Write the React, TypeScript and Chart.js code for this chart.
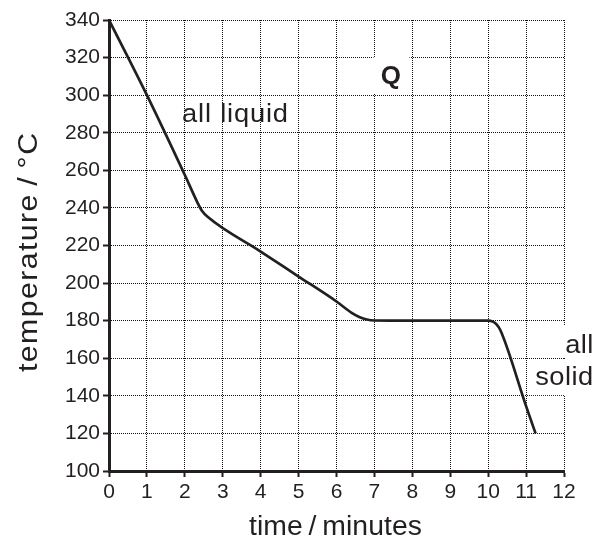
import { useEffect, useRef } from "react";
import { Chart, registerables } from "chart.js";

Chart.register(...registerables);

// ---- data ----
const timeMinutes = [0, 1, 2, 2.33, 2.45, 2.6, 4, 5, 6, 6.4, 6.6, 6.8, 7, 8, 9, 10, 10.12, 10.22, 10.32, 11, 11.25];
const temperatureC = [340, 300, 257.5, 243, 238.5, 235.3, 216.8, 203.5, 190.2, 184.2, 182, 180.6, 180.1, 180, 180, 180, 179.5, 178, 175, 134.5, 120];

const xRange = [0, 12];
const xStep = 1;
const yRange = [100, 340];
const yStep = 20;

const xTitle = "time\u2009/\u2009minutes";
const yTitle = "temperature\u2009/\u2009°C";

const labelTexts = ["all liquid", "Q", "all", "solid"];
// anchor positions in data coordinates
const labelX = [1.925, 7.45, 12.77, 12.77];
const labelY = [285.9, 306, 162.8, 145.7];

const INK = "#231f20";
const FONT = "'Liberation Sans', Arial, Helvetica, sans-serif";

function fitText(
  ctx: CanvasRenderingContext2D,
  text: string,
  left: number,
  baseline: number,
  target: number,
  sx = 1
) {
  const c: any = ctx;
  const hasLS = "letterSpacing" in c;
  if (hasLS) c.letterSpacing = "0px";
  const w0 = ctx.measureText(text).width * sx;
  const n = Array.from(text).length;
  ctx.save();
  ctx.translate(left, baseline);
  if (n > 1 && hasLS) {
    const ls = (target - w0) / (n - 1) / sx;
    c.letterSpacing = ls.toFixed(2) + "px";
    ctx.scale(sx, 1);
    ctx.fillText(text, 0, 0);
    c.letterSpacing = "0px";
  } else if (n > 1) {
    ctx.scale(target / (w0 / sx), 1);
    ctx.fillText(text, 0, 0);
  } else {
    ctx.fillText(text, (target - w0) / 2, 0);
  }
  ctx.restore();
}

const textPlugin = {
  id: "textPlugin",
  afterDraw(chart: any) {
    const { ctx } = chart;
    const xs = chart.scales.x;
    const ys = chart.scales.y;
    ctx.save();
    ctx.fillStyle = INK;
    ctx.textAlign = "left";
    ctx.textBaseline = "alphabetic";

    // label layout: [fontWeight, align, targetWidth, box(l,r,t,b) or null]
    const layout: any[] = [
      ["normal", "left", 106, null],
      ["bold", "center", 20, [8, 8, 27, 10]],
      ["normal", "right", 28, [7, 2, 28, 5]],
      ["normal", "right", 58, [5, 2, 26, 10]],
    ];

    labelTexts.forEach((t, i) => {
      const [weight, align, w, box] = layout[i];
      const px = xs.getPixelForValue(labelX[i]);
      const py = ys.getPixelForValue(labelY[i]);
      let left = px;
      if (align === "center") left = px - w / 2;
      if (align === "right") left = px - w;
      if (box) {
        ctx.fillStyle = "#ffffff";
        ctx.fillRect(left - box[0], py - box[2], w + box[0] + box[1], box[2] + box[3]);
        ctx.fillStyle = INK;
      }
      ctx.font = `${weight} 26px ${FONT}`;
      fitText(ctx, t, left, Math.round(py), w, 1.05);
    });

    // axis titles
    ctx.font = `normal 27px ${FONT}`;
    fitText(ctx, xTitle, 249, 535, 173, 1.05);

    ctx.save();
    ctx.translate(37, 252.5);
    ctx.rotate(-Math.PI / 2);
    ctx.font = `normal 27px ${FONT}`;
    fitText(ctx, yTitle, -119.5, 0, 239, 1.12);
    ctx.restore();

    ctx.restore();
  },
};

export default function App() {
  const ref = useRef<HTMLCanvasElement | null>(null);

  useEffect(() => {
    if (!ref.current) return;
    const points = timeMinutes.map((t, i) => ({ x: t, y: temperatureC[i] }));
    const gridCommon = {
      color: "#111111",
      lineWidth: 1,
      tickLength: 6,
      tickWidth: 2,
      tickColor: INK,
      tickBorderDash: [],
    };
    const chart = new Chart(ref.current, {
      type: "line",
      data: {
        datasets: [
          {
            data: points,
            borderColor: INK,
            borderWidth: 2.7,
            pointRadius: 0,
            fill: false,
            cubicInterpolationMode: "monotone",
            borderJoinStyle: "round",
          },
        ],
      },
      options: {
        responsive: false,
        animation: false,
        devicePixelRatio: 1,
        layout: { padding: { top: 20, right: 31, left: 0, bottom: 0 } },
        plugins: {
          legend: { display: false },
          tooltip: { enabled: false },
          title: { display: false },
        },
        scales: {
          x: {
            type: "linear",
            min: xRange[0],
            max: xRange[1],
            afterFit: (s: any) => {
              s.height = 69;
            },
            ticks: {
              stepSize: xStep,
              color: INK,
              padding: 3,
              font: { family: FONT, size: 21 },
              maxRotation: 0,
              autoSkip: false,
            },
            grid: gridCommon,
            border: { display: true, color: INK, width: 3, dash: [1, 1] },
          },
          y: {
            type: "linear",
            min: yRange[0],
            max: yRange[1],
            afterFit: (s: any) => {
              s.width = 109;
            },
            ticks: {
              stepSize: yStep,
              color: INK,
              padding: 3,
              font: { family: FONT, size: 21 },
              autoSkip: false,
            },
            grid: gridCommon,
            border: { display: true, color: INK, width: 3, dash: [1, 1] },
          },
        },
      } as any,
      plugins: [textPlugin],
    });
    return () => chart.destroy();
  }, []);

  return (
    <div style={{ position: "absolute", left: 0, top: 0, width: 595, height: 540, background: "#fff" }}>
      <canvas ref={ref} width={595} height={540} style={{ display: "block" }} />
    </div>
  );
}
